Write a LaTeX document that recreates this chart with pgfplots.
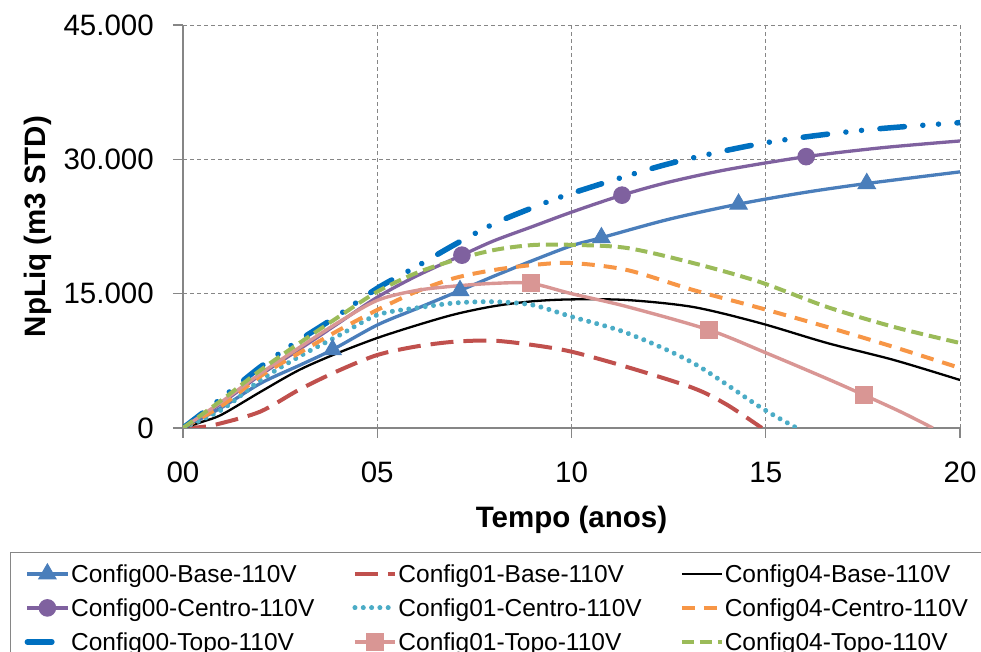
\documentclass[border=0pt]{standalone}
\usepackage{pgfplots}
\pgfplotsset{compat=1.18}
\usepackage{fontspec}
\setmainfont{Liberation Sans}
\definecolor{cBase}{HTML}{4A7EBB}
\definecolor{cCentro}{HTML}{7F619F}
\definecolor{cTopo}{HTML}{0070C0}
\definecolor{cRed}{HTML}{C0504D}
\definecolor{cTeal}{HTML}{4BACC6}
\definecolor{cPink}{HTML}{D99694}
\definecolor{cOrange}{HTML}{F79646}
\definecolor{cGreen}{HTML}{9BBB59}
\definecolor{cAxis}{HTML}{868686}
\begin{document}
\begin{tikzpicture}
\path[use as bounding box] (0,0) rectangle (981pt,652pt);
\begin{axis}[
  at={(183pt,224pt)}, anchor=south west,
  scale only axis, width=777pt, height=403pt,
  xmin=0, xmax=20, ymin=0, ymax=45000,
  scaled y ticks=false, scaled x ticks=false,
  xtick={0,5,10,15,20}, xticklabels={00,05,10,15,20},
  ytick={0,15000,30000,45000}, yticklabels={0,15.000,30.000,45.000},
  axis x line*=bottom, axis y line*=left,
  axis line style={cAxis, line width=1.3pt, -},
  tick style={cAxis, line width=1.1pt},
  major tick length=10pt, tick align=outside,
  grid=major, major grid style={cAxis, line width=0.9pt, dash pattern=on 4pt off 3pt},
  ticklabel style={font=\fontsize{29.5}{33}\selectfont},
  xticklabel style={anchor=base, yshift=-45pt},
  yticklabel style={anchor=east, inner sep=0pt, xshift=-19pt},
  xlabel={Tempo (anos)},
  ylabel={NpLiq (m3 STD)},
  xlabel style={at={(axis description cs:0.5,-0.2481)}, anchor=base, font=\fontsize{29.5}{34}\selectfont\bfseries},
  ylabel style={at={(axis description cs:-0.1866,0.5)}, anchor=center, font=\fontsize{29.5}{34}\selectfont\bfseries},
  legend columns=3,
  legend cell align=left,
  legend style={at={(-0.22265,-0.30769)}, anchor=north west, draw=cAxis, line width=1.3pt,
    inner xsep=14pt, inner ysep=11.25pt, row sep=16.5pt,
    font=\fontsize{24.5}{28}\selectfont,
    nodes={inner xsep=1pt, inner ysep=0pt, text height=17.5pt, text depth=0pt},
    /tikz/every even column/.append style={column sep=37pt}},
  legend image code/.code={\draw[#1, mark indices={2}] plot coordinates {(0pt,0pt) (20pt,0pt) (40pt,0pt)};},
]
% Config00-Base
\addplot[cBase, line width=3.3pt, smooth, mark=triangle*, mark size=10pt, mark options={solid, fill=cBase, line width=1pt}, mark indices={5,8,12,14,16}] coordinates {
(0,0) (1,2300) (2,5000) (3,7000) (3.85,8750) (5,11500) (6,13300) (7.13,15350) (8,16950) (9,18700) (10,20350) (10.77,21250) (12.5,23300) (14.3,25000) (16,26300) (17.6,27300) (20,28600)};
\addlegendentry{Config00-Base-110V}
% Config01-Base
\addplot[cRed, line width=4pt, smooth, dash pattern=on 23pt off 10pt] coordinates {
(0,0) (0.5,120) (1,550) (2,1850) (3,4300) (4,6400) (5,8150) (6,9100) (7,9640) (8,9750) (9,9270) (10,8520) (11.43,6810) (13.13,4470) (14,2600) (14.9,0)};
\addlegendentry{Config01-Base-110V}
% Config04-Base
\addplot[black, line width=2.3pt, smooth] coordinates {
(0,0) (0.5,700) (1,1500) (2,4050) (3,6500) (4,8400) (5,10050) (6,11450) (7,12700) (8,13600) (9,14150) (10,14360) (11.43,14290) (13.13,13510) (14.85,11720) (16.58,9490) (18.3,7590) (20,5360)};
\addlegendentry{Config04-Base-110V}
% Config00-Centro
\addplot[cCentro, line width=3.3pt, smooth, mark=*, mark size=8.3pt, mark options={solid, fill=cCentro, line width=1pt}, mark indices={8,12,15}] coordinates {
(0,0) (1,2800) (2,5950) (3,8800) (4,11700) (5,14600) (6,16950) (7.18,19300) (8,20900) (9,22500) (10,24100) (11.3,26000) (12.5,27450) (14,28850) (16.04,30300) (18,31300) (20,32050)};
\addlegendentry{Config00-Centro-110V}
% Config01-Centro
\addplot[cTeal, line width=5pt, smooth, line cap=round, dash pattern=on 0.01pt off 8.3pt] coordinates {
(0,0) (1,2050) (2,5360) (3,8000) (4,10300) (5,12620) (6,13400) (7,13960) (8,14100) (9,13730) (10,12430) (11.43,10600) (13.13,7260) (14.85,2350) (15.8,0)};
\addlegendentry{Config01-Centro-110V}
% Config04-Centro
\addplot[cOrange, line width=4pt, smooth, dash pattern=on 13pt off 9pt] coordinates {
(0,0) (1,2500) (2,5800) (3,8400) (4,10900) (5,13180) (6,15220) (7,16750) (8,17640) (9,18200) (10,18420) (11.43,17640) (13.13,15410) (14.85,13400) (16.58,11280) (18.3,9040) (20,6700)};
\addlegendentry{Config04-Centro-110V}
% Config00-Topo
\addplot[cTopo, line width=5.5pt, smooth, line cap=round, dash pattern=on 24.5pt off 18.5pt on 0.01pt off 15.7pt on 0.01pt off 18.5pt] coordinates {
(0,0) (1,3350) (2,6850) (3,9830) (4,12600) (5,15600) (6,18000) (7,20500) (8,22800) (9,24600) (10,26200) (12.5,29500) (15,31850) (17.5,33250) (20,34100)};
\addlegendentry{Config00-Topo-110V}
% Config01-Topo
\addplot[cPink, line width=3.4pt, smooth, mark=square*, mark size=8.5pt, mark options={solid, fill=cPink, line width=1pt}, mark indices={10,13,16}] coordinates {
(0,0) (1,2950) (2,6100) (3,9000) (4,11800) (5,14250) (6,15350) (7,15850) (8,16150) (8.95,16150) (10,15000) (11.43,13550) (13.54,10950) (15,8400) (16.58,5500) (17.53,3680) (18.5,1750) (19.3,0)};
\addlegendentry{Config01-Topo-110V}
% Config04-Topo
\addplot[cGreen, line width=4pt, smooth, dash pattern=on 12pt off 6pt] coordinates {
(0,0) (1,3130) (2,6480) (3,9500) (4,12400) (5,15220) (6,17300) (7,18760) (8,19870) (9,20430) (10,20450) (11.43,20100) (13.13,18420) (14.85,16300) (16.58,13510) (18.3,11280) (20,9490)};
\addlegendentry{Config04-Topo-110V}
\end{axis}
\end{tikzpicture}
\end{document}
